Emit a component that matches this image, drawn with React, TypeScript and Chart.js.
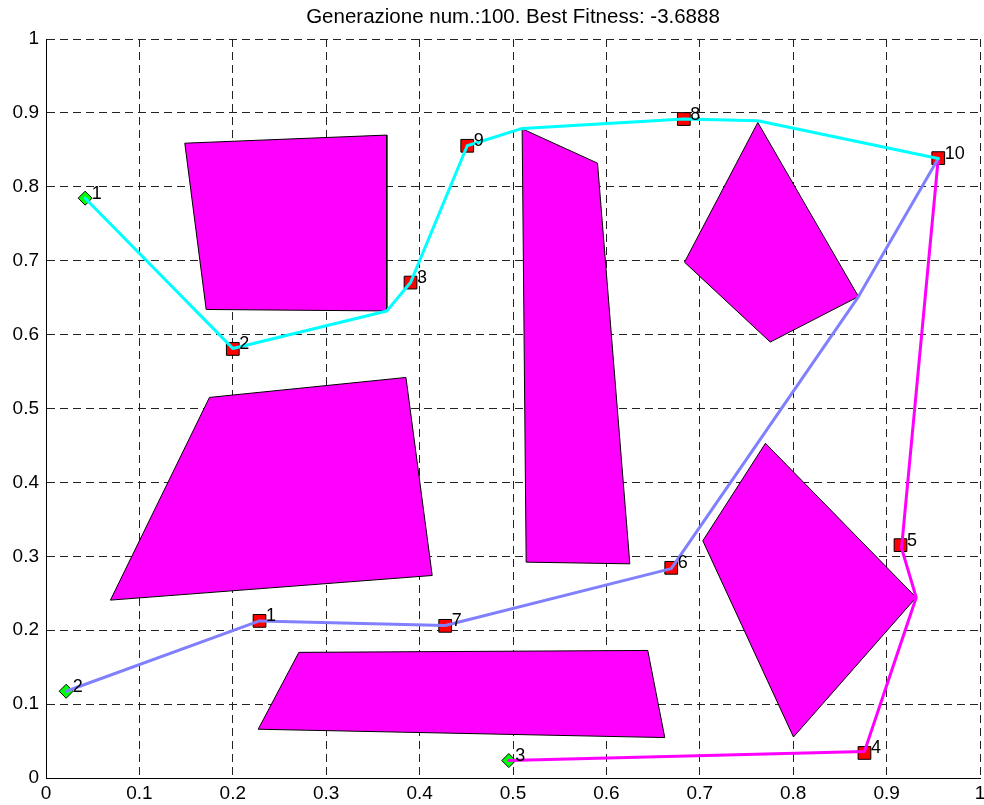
import React, { useEffect, useRef } from "react";
import { Chart, registerables } from "chart.js";

Chart.register(...registerables);

// ---------- data ----------
const titleText = "Generazione num.:100. Best Fitness: -3.6888";
const tickLabels = ["0", "0.1", "0.2", "0.3", "0.4", "0.5", "0.6", "0.7", "0.8", "0.9", "1"];

// obstacles (polygon vertices, x / y)
const obstacle1X = [0.1486, 0.3649, 0.3649, 0.1715];
const obstacle1Y = [0.859, 0.870, 0.632, 0.634];
const obstacle2X = [0.175, 0.3854, 0.4135, 0.069];
const obstacle2Y = [0.515, 0.542, 0.274, 0.2407];
const obstacle3X = [0.2707, 0.6443, 0.6625, 0.2272];
const obstacle3Y = [0.170, 0.1726, 0.0547, 0.066];
const obstacle4X = [0.5098, 0.5905, 0.6251, 0.5141];
const obstacle4Y = [0.8785, 0.832, 0.2898, 0.2921];
const obstacle5X = [0.7621, 0.8699, 0.7754, 0.6836];
const obstacle5Y = [0.887, 0.6514, 0.5899, 0.698];
const obstacle6X = [0.7703, 0.9317, 0.8003, 0.7032];
const obstacle6Y = [0.4529, 0.2443, 0.0555, 0.321];

// robot paths
const cyanPathX = [0.0419, 0.2, 0.3649, 0.3903, 0.451, 0.5098, 0.6829, 0.7621, 0.9553];
const cyanPathY = [0.7846, 0.5813, 0.632, 0.6704, 0.8555, 0.879, 0.8917, 0.8894, 0.8383];
const bluePathX = [0.0216, 0.2286, 0.4274, 0.6694, 0.8699, 0.9553];
const bluePathY = [0.1174, 0.2126, 0.2064, 0.2833, 0.6514, 0.8383];
const magentaPathX = [0.4955, 0.8763, 0.9317, 0.916, 0.9553];
const magentaPathY = [0.0236, 0.0358, 0.2443, 0.311, 0.8383];

// start points (green diamonds)
const startX = [0.0419, 0.0216, 0.4955];
const startY = [0.7846, 0.1174, 0.0236];
const startLabels = ["1", "2", "3"];

// targets (red squares)
const targetX = [0.2286, 0.2, 0.3903, 0.8763, 0.9149, 0.6694, 0.4274, 0.6829, 0.451, 0.9553];
const targetY = [0.2126, 0.5806, 0.6704, 0.0339, 0.3151, 0.2844, 0.2059, 0.8917, 0.8555, 0.8388];
const targetLabels = ["1", "2", "3", "4", "5", "6", "7", "8", "9", "10"];

// ---------- helpers ----------
const FONT = "'Liberation Sans', Arial, Helvetica, sans-serif";

function pts(xs: number[], ys: number[], close = false) {
  const arr = xs.map((x, i) => ({ x, y: ys[i] }));
  if (close) arr.push({ x: xs[0], y: ys[0] });
  return arr;
}

function obstacleDataset(xs: number[], ys: number[]) {
  return {
    data: pts(xs, ys, true),
    showLine: true,
    fill: "shape",
    backgroundColor: "#FF00FF",
    borderColor: "#000000",
    borderWidth: 1,
    pointRadius: 0,
    order: 3,
  };
}

function pathDataset(xs: number[], ys: number[], color: string) {
  return {
    data: pts(xs, ys),
    showLine: true,
    fill: false,
    borderColor: color,
    borderWidth: 3,
    borderJoinStyle: "round",
    borderCapStyle: "round",
    pointRadius: 0,
    order: 1,
  };
}

const labelPlugin = {
  id: "markerLabels",
  afterDatasetsDraw(chart: any) {
    const ctx = chart.ctx;
    ctx.save();
    ctx.font = `18px ${FONT}`;
    ctx.fillStyle = "#000";
    ctx.textAlign = "left";
    ctx.textBaseline = "alphabetic";
    chart.data.datasets.forEach((ds: any, i: number) => {
      if (!ds.markerLabels) return;
      const meta = chart.getDatasetMeta(i);
      meta.data.forEach((el: any, j: number) => {
        ctx.fillText(ds.markerLabels[j], el.x + 6.5, el.y + 0.5);
      });
    });
    ctx.restore();
  },
};

const titlePlugin = {
  id: "centeredTitle",
  afterDraw(chart: any) {
    const ctx = chart.ctx;
    const area = chart.chartArea;
    ctx.save();
    ctx.font = `20.5px ${FONT}`;
    ctx.fillStyle = "#000";
    ctx.textAlign = "center";
    ctx.textBaseline = "alphabetic";
    ctx.fillText(titleText, (area.left + area.right) / 2, 23);
    ctx.restore();
  },
};

function tickCb(v: any) {
  const idx = Math.round(Number(v) * 10);
  return tickLabels[idx] ?? "";
}

export default function App() {
  const ref = useRef<HTMLCanvasElement | null>(null);

  useEffect(() => {
    if (!ref.current) return;
    const chart = new Chart(ref.current, {
      type: "scatter",
      data: {
        datasets: [
          pathDataset(cyanPathX, cyanPathY, "#00FFFF"),
          pathDataset(bluePathX, bluePathY, "#8080FF"),
          pathDataset(magentaPathX, magentaPathY, "#FF00FF"),
          {
            data: pts(targetX, targetY),
            showLine: false,
            pointStyle: "rect",
            pointRadius: 9,
            backgroundColor: "#FF0000",
            borderColor: "#000000",
            borderWidth: 1,
            order: 2,
            markerLabels: targetLabels,
          } as any,
          {
            data: pts(startX, startY),
            showLine: false,
            pointStyle: "rectRot",
            pointRadius: 7,
            backgroundColor: "#00FF00",
            borderColor: "#000000",
            borderWidth: 1,
            order: 2,
            markerLabels: startLabels,
          } as any,
          obstacleDataset(obstacle1X, obstacle1Y),
          obstacleDataset(obstacle2X, obstacle2Y),
          obstacleDataset(obstacle3X, obstacle3Y),
          obstacleDataset(obstacle4X, obstacle4Y),
          obstacleDataset(obstacle5X, obstacle5Y),
          obstacleDataset(obstacle6X, obstacle6Y),
        ] as any,
      },
      options: {
        animation: false,
        responsive: false,
        events: [],
        layout: { autoPadding: false, padding: { top: 39, right: 4, left: 0, bottom: 0 } },
        plugins: {
          legend: { display: false },
          tooltip: { enabled: false },
          title: { display: false },
        },
        scales: {
          x: {
            type: "linear",
            min: 0,
            max: 1,
            afterFit(scale: any) {
              scale.height = 27;
              scale.paddingLeft = 0;
              scale.paddingRight = 0;
            },
            ticks: {
              stepSize: 0.1,
              autoSkip: false,
              maxRotation: 0,
              padding: 4,
              color: "#000",
              font: { family: FONT, size: 19 },
              callback: tickCb,
            },
            grid: { color: "#222", lineWidth: 1, drawTicks: false },
            border: { display: true, color: "#000", width: 1, dash: [8, 5] },
          },
          y: {
            type: "linear",
            min: 0,
            max: 1,
            afterFit(scale: any) {
              scale.width = 46;
              scale.paddingTop = 0;
              scale.paddingBottom = 0;
            },
            ticks: {
              stepSize: 0.1,
              autoSkip: false,
              padding: 7,
              color: "#000",
              font: { family: FONT, size: 19 },
              callback: tickCb,
            },
            grid: { color: "#222", lineWidth: 1, drawTicks: false },
            border: { display: true, color: "#000", width: 1, dash: [8, 5] },
          },
        },
      } as any,
      plugins: [labelPlugin, titlePlugin],
    });
    return () => chart.destroy();
  }, []);

  return (
    <div style={{ position: "absolute", left: 0, top: 0, width: 984, height: 805, background: "#fff" }}>
      <canvas ref={ref} width={984} height={805} style={{ display: "block" }} />
    </div>
  );
}
